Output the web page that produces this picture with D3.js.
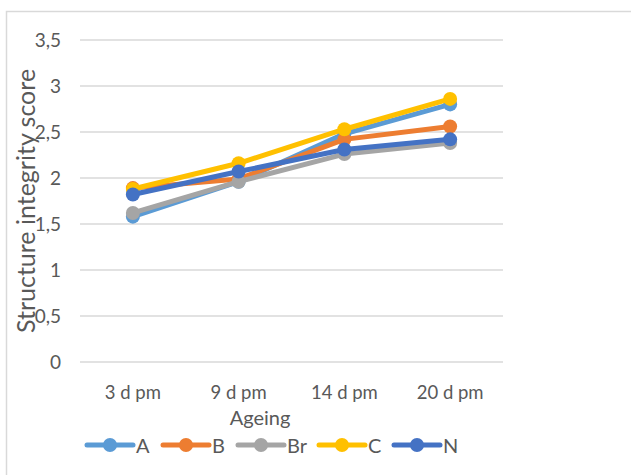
<!DOCTYPE html>
<html><head><meta charset="utf-8">
<script src="https://cdn.jsdelivr.net/npm/d3@7"></script>
<style>body{margin:0;background:#fff}svg{font-family:Lato,"Noto Sans",sans-serif}</style>
</head><body>
<svg id="c" width="631" height="475"></svg>
<script>
const categories = ["3 d pm","9 d pm","14 d pm","20 d pm"];
const seriesNames = ["A","B","Br","C","N"];
const A  = [1.58, 1.96, 2.48, 2.80];
const B  = [1.89, 1.99, 2.42, 2.56];
const Br = [1.62, 1.96, 2.26, 2.38];
const C  = [1.88, 2.16, 2.53, 2.86];
const N  = [1.82, 2.07, 2.31, 2.42];
const yTicks = [0,0.5,1,1.5,2,2.5,3,3.5];
const colors = ["#5B9BD5","#ED7D31","#A5A5A5","#FFC000","#4472C4"];
const values = [A,B,Br,C,N];

const svg = d3.select("#c");
svg.append("rect").attr("x",6.5).attr("y",11.5).attr("width",640).attr("height",480)
  .attr("fill","#fff").attr("stroke","#d9d9d9").attr("stroke-width",1.5);

const x = d3.scaleBand().domain(categories).range([80,503]);
const y = d3.scaleLinear().domain([0,3.5]).range([362,40]);
const fmt = d => String(d).replace(".",",");

svg.append("g").selectAll("line").data(yTicks).join("line")
  .attr("x1",80).attr("x2",503).attr("y1",d=>y(d)).attr("y2",d=>y(d))
  .attr("stroke","#d9d9d9").attr("stroke-width",1.5);

const yAxis = svg.append("g").attr("transform","translate(72,0)")
  .call(d3.axisLeft(y).tickValues(yTicks).tickFormat(fmt).tickSize(0).tickPadding(11));
yAxis.select(".domain").remove();
yAxis.selectAll("text").attr("fill","#595959").attr("font-size",19).attr("font-family","Lato,sans-serif");

const xAxis = svg.append("g").attr("transform","translate(0,383)")
  .call(d3.axisBottom(x).tickSize(0).tickPadding(3));
xAxis.select(".domain").remove();
xAxis.selectAll("text").attr("fill","#595959").attr("font-size",18.5).attr("font-family","Lato,sans-serif");

svg.append("text").attr("x",260).attr("y",425).attr("text-anchor","middle")
  .attr("fill","#595959").attr("font-size",20).text("Ageing");
svg.append("text").attr("transform","translate(35,201) rotate(-90)").attr("text-anchor","middle")
  .attr("fill","#595959").attr("font-size",25).text("Structure integrity score");

const line = d3.line().x((d,i)=>x(categories[i])+x.bandwidth()/2).y(d=>y(d));
values.forEach((vals,si)=>{
  const g = svg.append("g");
  g.append("path").datum(vals).attr("d",line).attr("fill","none")
    .attr("stroke",colors[si]).attr("stroke-width",5).attr("stroke-linejoin","round");
  g.selectAll("circle").data(vals).join("circle")
    .attr("cx",(d,i)=>x(categories[i])+x.bandwidth()/2).attr("cy",d=>y(d)).attr("r",7)
    .attr("fill",colors[si]);
});

const legX = [87,163,238,319,394];
const lg = svg.append("g");
seriesNames.forEach((n,i)=>{
  const g = lg.append("g").attr("transform",`translate(${legX[i]},445)`);
  g.append("line").attr("x1",0).attr("x2",46).attr("stroke",colors[i]).attr("stroke-width",5).attr("stroke-linecap","round");
  g.append("circle").attr("cx",23).attr("r",7).attr("fill",colors[i]);
  g.append("text").attr("x",49).attr("y",7.5).attr("fill","#595959").attr("font-size",20).text(n);
});
</script>
</body></html>
